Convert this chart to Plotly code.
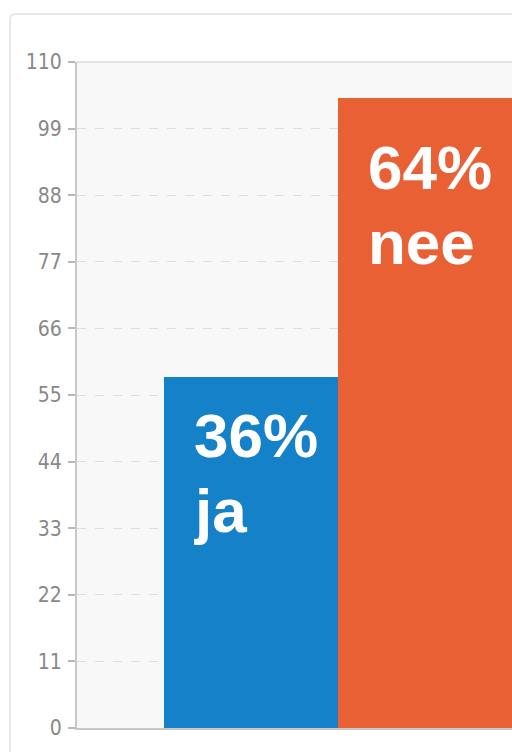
import plotly.graph_objects as go

# Poll result: share of answers, drawn on a 0-110 scale
answers = ["ja", "nee"]
percent_labels = ["36%", "64%"]
bar_values = [58, 104]
bar_colors = ["#1581c8", "#e86034"]
y_ticks = [0, 11, 22, 33, 44, 55, 66, 77, 88, 99, 110]

W, H = 512, 752
M_L, M_R, M_T, M_B = 77, 0, 62, 24

fig = go.Figure()
fig.add_trace(go.Bar(
    x=list(range(len(answers))),
    y=bar_values,
    width=1.0,
    marker=dict(color=bar_colors, line=dict(width=0)),
    hoverinfo="skip",
    showlegend=False,
))

# Label each bar in its upper-left corner: percentage, then the answer
for i, (pct, name, val) in enumerate(zip(percent_labels, answers, bar_values)):
    top_pad = -22 if i == 0 else -33
    fig.add_annotation(x=i - 0.5, y=val, xref="x", yref="y",
                       text=f"<b>{pct}</b>", showarrow=False,
                       xanchor="left", yanchor="top", xshift=28, yshift=top_pad,
                       font=dict(family="Liberation Sans, Arial", size=62, color="white"))
    fig.add_annotation(x=i - 0.5, y=val, xref="x", yref="y",
                       text=f"<b>{name}</b>", showarrow=False,
                       xanchor="left", yanchor="top", xshift=28, yshift=top_pad - 75,
                       font=dict(family="Liberation Sans, Arial", size=62, color="white"))

# Card outline behind the chart
pw, ph = W - M_L - M_R, H - M_T - M_B
def px(xp): return (xp - M_L) / pw
def py(yp): return (H - M_B - yp) / ph
r = 6
fig.add_shape(type="path", xref="paper", yref="paper", layer="below",
              path=(f"M {px(10)},{py(H + 10)} L {px(10)},{py(14 + r)} "
                    f"Q {px(10)},{py(14)} {px(10 + r)},{py(14)} L {px(W + 10)},{py(14)}"),
              line=dict(color="#e8e8e8", width=2))

fig.update_layout(
    width=W, height=H,
    margin=dict(l=M_L, r=M_R, t=M_T, b=M_B, autoexpand=False),
    paper_bgcolor="white",
    plot_bgcolor="#f8f8f8",
    bargap=0,
    xaxis=dict(range=[-1.003, 1.50], showticklabels=False, showgrid=False,
               zeroline=False, showline=True, linecolor="#c8c8c8", linewidth=2,
               ticks="", fixedrange=True),
    yaxis=dict(range=[0, 110], tickvals=y_ticks, ticks="outside", ticklen=7,
               tickcolor="#b8b8b8", tickwidth=1.5, showline=True, linecolor="#c8c8c8",
               linewidth=2, showgrid=True, gridcolor="#dedede", griddash="dash",
               gridwidth=1, zeroline=False,
               tickfont=dict(family="DejaVu Sans Condensed", size=21, color="#888888"),
               ticklabelstandoff=2),
)
# plot area top border
fig.add_shape(type="line", xref="paper", yref="paper", x0=0, x1=1, y0=1, y1=1,
              line=dict(color="#e4e4e4", width=2), layer="below")

fig.write_html("out.html")
